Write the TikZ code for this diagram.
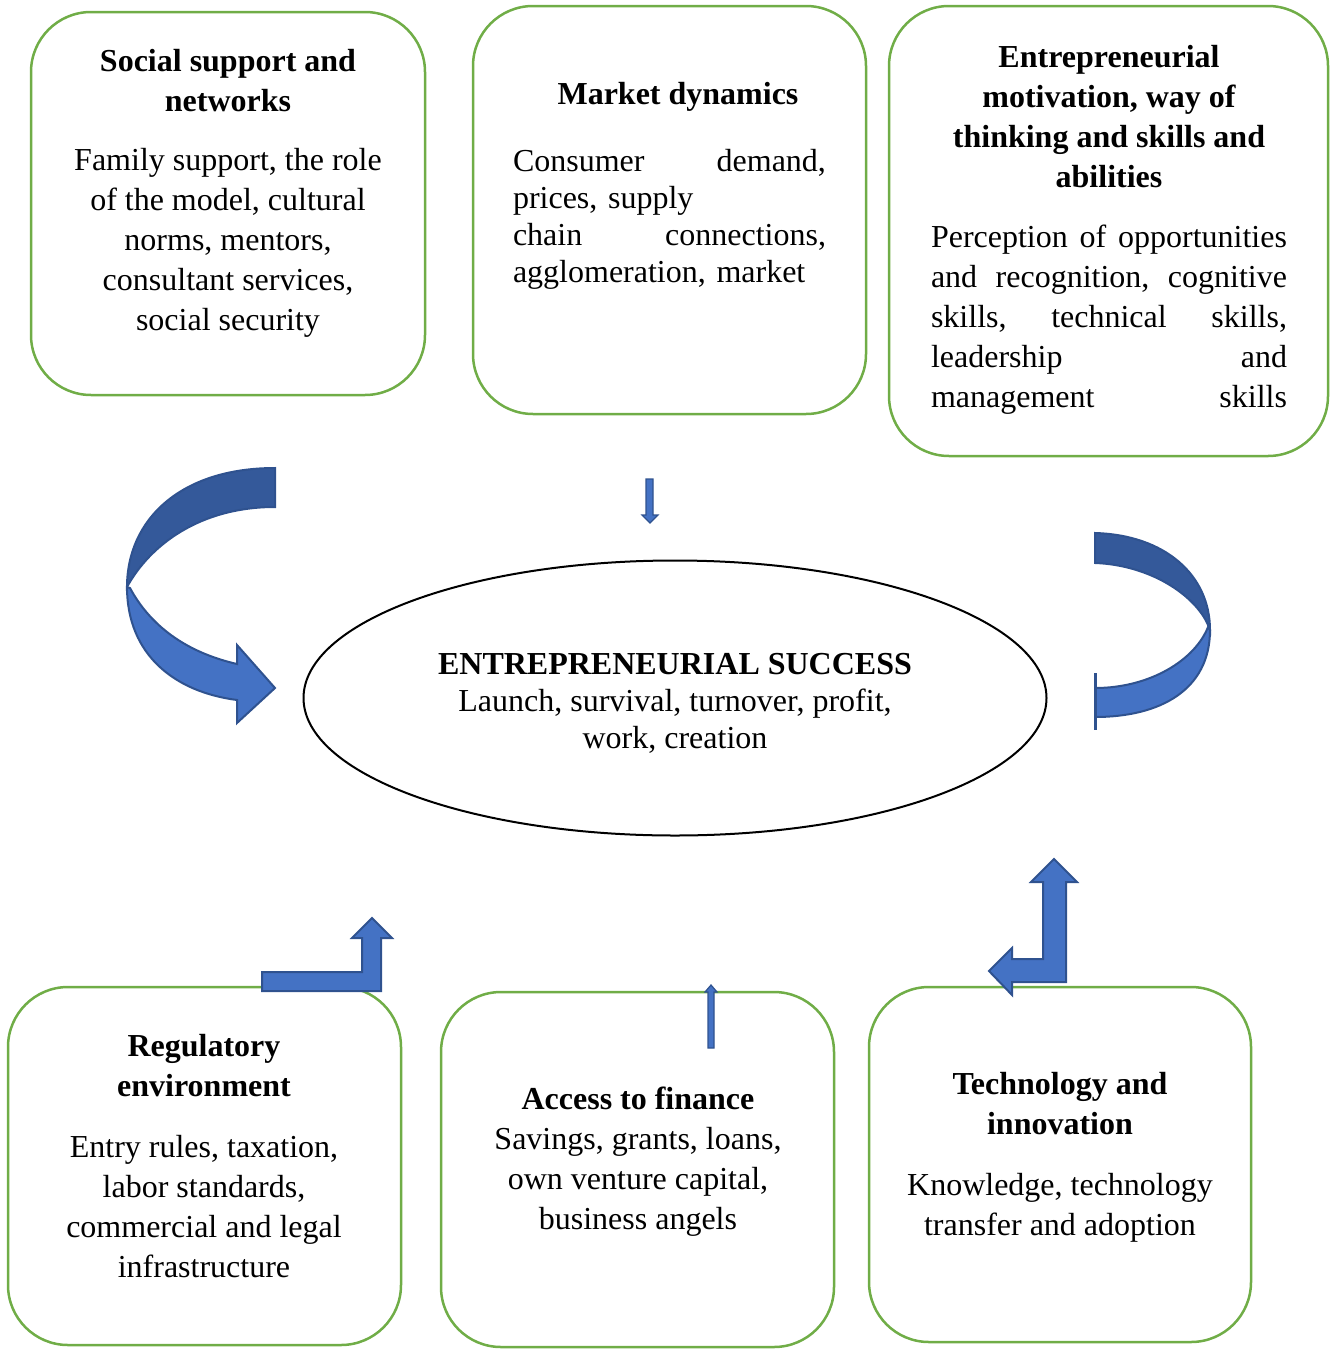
\documentclass[tikz,border=0pt]{standalone}
\usepackage{fontspec}
\setmainfont{Liberation Serif}
\usetikzlibrary{shapes.geometric}
\definecolor{boxgreen}{HTML}{70AD47}
\definecolor{arrowblue}{HTML}{4472C4}
\definecolor{arrowdark}{HTML}{34599A}
\definecolor{arrowline}{HTML}{2F528F}
\begin{document}
\begin{tikzpicture}[x=0.5pt, y=-0.5pt, font=\fontsize{16}{20}\selectfont\frenchspacing,
 box/.style={draw=boxgreen,line width=1.25pt,rounded corners=30pt},
 ttl/.style={font=\fontsize{16}{20}\selectfont\bfseries,align=center,inner sep=0pt},
 txt/.style={align=center,inner sep=0pt},
 jtxt/.style={align=left,inner sep=0pt,text width=#1},
 blk/.style={fill=arrowblue,draw=arrowline,line width=1pt,line join=miter},
 blkd/.style={blk,fill=arrowdark}]
\useasboundingbox (0,0) rectangle (1330,1349);
% boxes
\node[box,minimum width=197pt,minimum height=191.5pt] (social) at (228,203.5) {};
\node[box,minimum width=196.5pt,minimum height=204pt] (market) at (669.5,210) {};
\node[box,minimum width=219.5pt,minimum height=225pt] (motiv) at (1108.5,231) {};
\node[box,minimum width=196.5pt,minimum height=179pt] (regul) at (204.5,1166) {};
\node[box,minimum width=196.5pt,minimum height=177.5pt] (finance) at (637.5,1169.5) {};
\node[box,minimum width=191pt,minimum height=177.5pt] (techno) at (1060,1164.5) {};
% texts
\node[ttl] (socialt) at (228,81) {Social support and\\networks};
\node[txt] (socialb) at (228,243) {Family support, the role\\of the model, cultural\\norms, mentors,\\consultant services,\\social security};
\node[ttl] (markett) at (678,97) {Market dynamics};
\node[jtxt=156.5pt,font=\fontsize{16}{18.5}\selectfont\frenchspacing] (marketb) at (669.5,219.5)
 {Consumer\hfill demand,\\prices, supply\\chain\hfill connections,\\agglomeration, market};
\node[ttl] (motivt) at (1109,117) {Entrepreneurial\\motivation, way of\\thinking and skills and\\abilities};
\node[jtxt=178pt] (motivb) at (1109,320)
 {Perception\hfill of\hfill opportunities\\and\hfill recognition,\hfill cognitive\\skills,\hfill technical\hfill skills,\\leadership\hfill and\\management\hfill skills};
\node[ttl] (regult) at (204,1066) {Regulatory\\environment};
\node[txt] (regulb) at (204,1207) {Entry rules, taxation,\\labor standards,\\commercial and legal\\infrastructure};
\node[txt] (financeb) at (638,1162) {\textbf{Access to finance}\\Savings, grants, loans,\\own venture capital,\\business angels};
\node[ttl] (technot) at (1060,1104) {Technology and\\innovation};
\node[txt] (technob) at (1060,1208) {Knowledge, technology\\transfer and adoption};
% centre
\node[draw,ellipse,line width=1pt,minimum width=371.5pt,minimum height=137.5pt,inner sep=0pt] (success) at (675,698) {};
\node[txt,font=\fontsize{16}{18.5}\selectfont\frenchspacing] (successt) at (675,703)
 {\textbf{ENTREPRENEURIAL SUCCESS}\\Launch, survival, turnover, profit,\\work, creation};
% block arrows
\filldraw[blkd] (275,468) .. controls (180,468) and (127,520) .. (127,587)
 .. controls (150,545) and (200,507) .. (275,507) -- cycle;
\filldraw[blk] (127,587) .. controls (127,655) and (175,692) .. (237,700) -- (237,723) -- (275,688)
 -- (237,645) -- (237,664) .. controls (185,652) and (150,625) .. (130,588) -- cycle;
\filldraw[blkd] (1095,533) .. controls (1165,535) and (1210,575) .. (1210,630)
 -- (1208,625) .. controls (1195,595) and (1150,565) .. (1095,563) -- cycle;
\filldraw[blk] (1210,630) .. controls (1210,690) and (1160,717) .. (1095,717)
 -- (1095,688) .. controls (1150,688) and (1195,660) .. (1208,627) -- cycle;
\draw[arrowline,line width=1.5pt] (1095,673) -- (1095,730);
\filldraw[blk] (262,972) -- (362,972) -- (362,938) -- (352,938) -- (372,918) -- (392,938)
 -- (381,938) -- (381,991) -- (262,991) -- cycle;
\filldraw[blk] (1066,882) -- (1077,882) -- (1054,859) -- (1031,882) -- (1043,882) -- (1043,959)
 -- (1012,959) -- (1012,948) -- (989,971) -- (1012,995) -- (1012,982) -- (1066,982) -- cycle;
\filldraw[blk,line width=0.6pt] (646,479) -- (653,479) -- (653,515) -- (658,515) -- (650,523)
 -- (642,515) -- (646,515) -- cycle;
\filldraw[blk,line width=0.6pt] (708,1048) -- (714,1048) -- (714,992) -- (717,992) -- (711,985)
 -- (705,992) -- (708,992) -- cycle;
\end{tikzpicture}
\end{document}
